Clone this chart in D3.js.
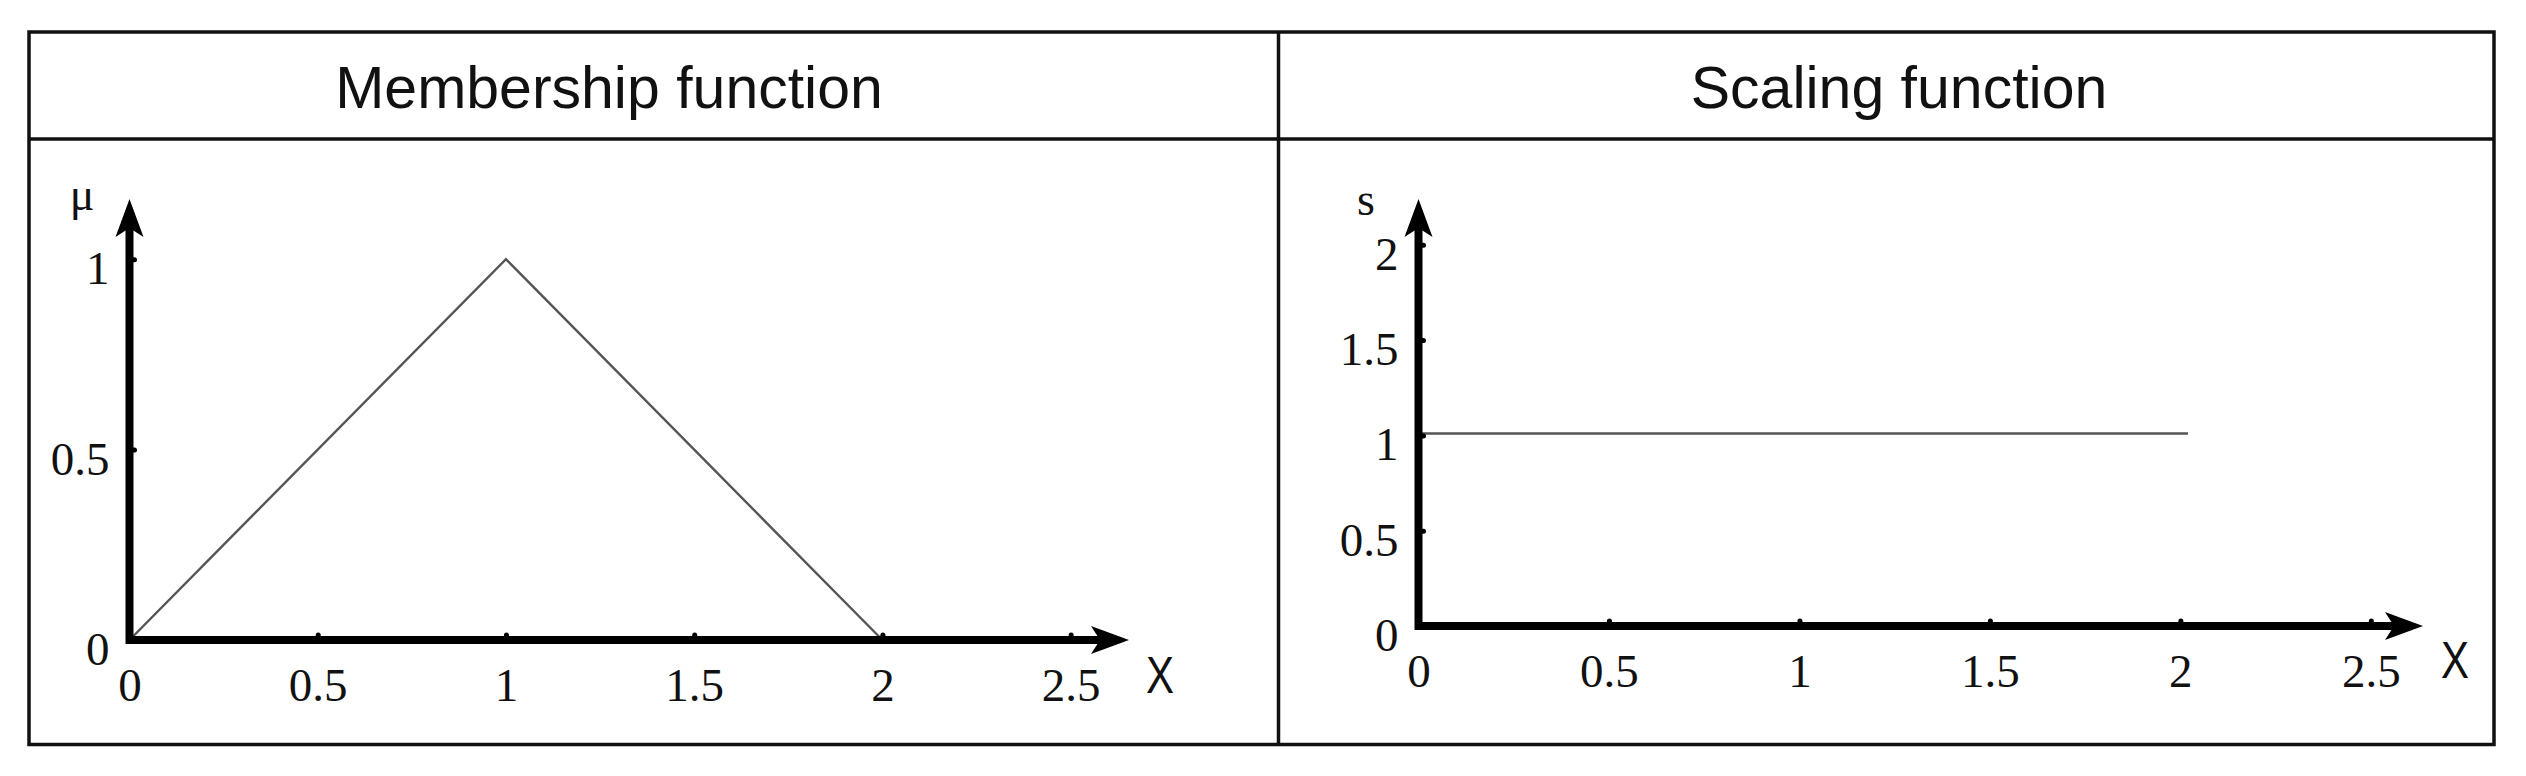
<!DOCTYPE html>
<html>
<head>
<meta charset="utf-8">
<script src="https://cdn.jsdelivr.net/npm/d3@7"></script>
<style>
  body { margin: 0; background: #fff; }
</style>
</head>
<body>
<svg id="chart"></svg>
<script>
// data
const panelTitles = ['Membership function', 'Scaling function']
const axisNames = ['μ', 's']
const xTicks = [0, 0.5, 1, 1.5, 2, 2.5]
const muTicks = [0, 0.5, 1]
const sTicks = [0, 0.5, 1, 1.5, 2]
const muX = [0, 1, 2]
const muY = [0, 1, 0]
const sX = [0, 2.02]
const sY = [1.01, 1.01]

const width = 2526
const height = 776

const svg = d3.select('#chart')
  .attr('width', width)
  .attr('height', height)

svg.append('rect')
  .attr('width', width)
  .attr('height', height)
  .attr('fill', '#fff')

// table frame
const table = { left: 29, right: 2494, top: 32, mid: 1278.5, header: 139, bottom: 744.5 }
const frame = svg.append('g')
  .attr('stroke', '#111')
  .attr('stroke-width', 3.5)
  .attr('fill', 'none')

frame.append('rect')
  .attr('x', table.left)
  .attr('y', table.top)
  .attr('width', table.right - table.left)
  .attr('height', table.bottom - table.top)
frame.append('line')
  .attr('x1', table.left).attr('x2', table.right)
  .attr('y1', table.header).attr('y2', table.header)
frame.append('line')
  .attr('x1', table.mid).attr('x2', table.mid)
  .attr('y1', table.top).attr('y2', table.bottom)

// titles
const titleX = [609, 1899]
svg.selectAll('.title')
  .data(panelTitles)
  .enter().append('text')
  .attr('class', 'title')
  .attr('x', (d, i) => titleX[i])
  .attr('y', 108)
  .attr('text-anchor', 'middle')
  .attr('font-family', 'Liberation Sans, Arial, sans-serif')
  .attr('font-size', 59)
  .attr('fill', '#111')
  .text(d => d)

const panels = [
  {
    x: d3.scaleLinear().domain([0, 2.655]).range([129.5, 1129]),
    y: d3.scaleLinear().domain([0, 1.158]).range([640, 199]),
    yTicks: muTicks,
    xs: muX,
    ys: muY,
    name: axisNames[0],
    namePos: [82, 210],
    nameSize: 46,
    xLabelPos: [1160, 693],
    xPad: 28
  },
  {
    x: d3.scaleLinear().domain([0, 2.637]).range([1418.5, 2423]),
    y: d3.scaleLinear().domain([0, 2.24]).range([626, 199]),
    yTicks: sTicks,
    xs: sX,
    ys: sY,
    name: axisNames[1],
    namePos: [1366, 215],
    nameSize: 46,
    xLabelPos: [2455, 678],
    xPad: 28
  }
]

const arrowHead = 'M0,0 L-38,-14 L-29,0 L-38,14 Z'

panels.forEach(p => {
  const g = svg.append('g')
  const x0 = p.x(0)
  const y0 = p.y(0)
  const xb = p.x.range()[1]
  const yb = p.y.range()[1]

  // data line
  g.append('path')
    .datum(p.xs.map((v, i) => [v, p.ys[i]]))
    .attr('fill', 'none')
    .attr('stroke', '#555')
    .attr('stroke-width', 2.4)
    .attr('d', d3.line().x(d => p.x(d[0])).y(d => p.y(d[1])))

  // x axis
  const gx = g.append('g')
    .attr('transform', `translate(0,${y0})`)
    .call(d3.axisBottom(p.x)
      .tickValues(xTicks)
      .tickSizeInner(-5)
      .tickSizeOuter(0)
      .tickPadding(p.xPad)
      .tickFormat(d3.format('')))
  gx.select('.domain').remove()

  // y axis
  const gy = g.append('g')
    .attr('transform', `translate(${x0},0)`)
    .call(d3.axisLeft(p.y)
      .tickValues(p.yTicks)
      .tickSizeInner(-5)
      .tickSizeOuter(0)
      .tickPadding(20)
      .tickFormat(d3.format('')))
  gy.select('.domain').remove()

  g.selectAll('.tick line')
    .attr('stroke', '#000')
    .attr('stroke-width', 5)
    .attr('stroke-linecap', 'round')
  g.selectAll('.tick text')
    .attr('font-family', 'Liberation Serif, Times New Roman, serif')
    .attr('font-size', 47)
    .attr('fill', '#111')
  gy.selectAll('.tick text').attr('dy', '0.52em')
  gx.selectAll('.tick text').attr('dy', '0.71em')

  // axis lines with arrow heads
  g.append('path')
    .attr('d', `M${xb - 22},${y0} H${x0} V${yb + 22}`)
    .attr('fill', 'none')
    .attr('stroke', '#000')
    .attr('stroke-width', 8)
    .attr('stroke-linejoin', 'miter')
  g.append('path')
    .attr('d', arrowHead)
    .attr('transform', `translate(${xb},${y0})`)
    .attr('fill', '#000')
  g.append('path')
    .attr('d', arrowHead)
    .attr('transform', `translate(${x0},${yb}) rotate(-90)`)
    .attr('fill', '#000')

  // axis names
  g.append('text')
    .attr('x', p.namePos[0])
    .attr('y', p.namePos[1])
    .attr('text-anchor', 'middle')
    .attr('font-family', 'Liberation Serif, Times New Roman, serif')
    .attr('font-size', p.nameSize)
    .attr('fill', '#111')
    .text(p.name)
  g.append('text')
    .attr('x', p.xLabelPos[0])
    .attr('y', p.xLabelPos[1])
    .attr('text-anchor', 'middle')
    .attr('font-family', 'Liberation Sans, Arial, sans-serif')
    .attr('font-size', 52)
    .attr('textLength', 28)
    .attr('lengthAdjust', 'spacingAndGlyphs')
    .attr('fill', '#111')
    .text('X')
})
</script>
</body>
</html>
